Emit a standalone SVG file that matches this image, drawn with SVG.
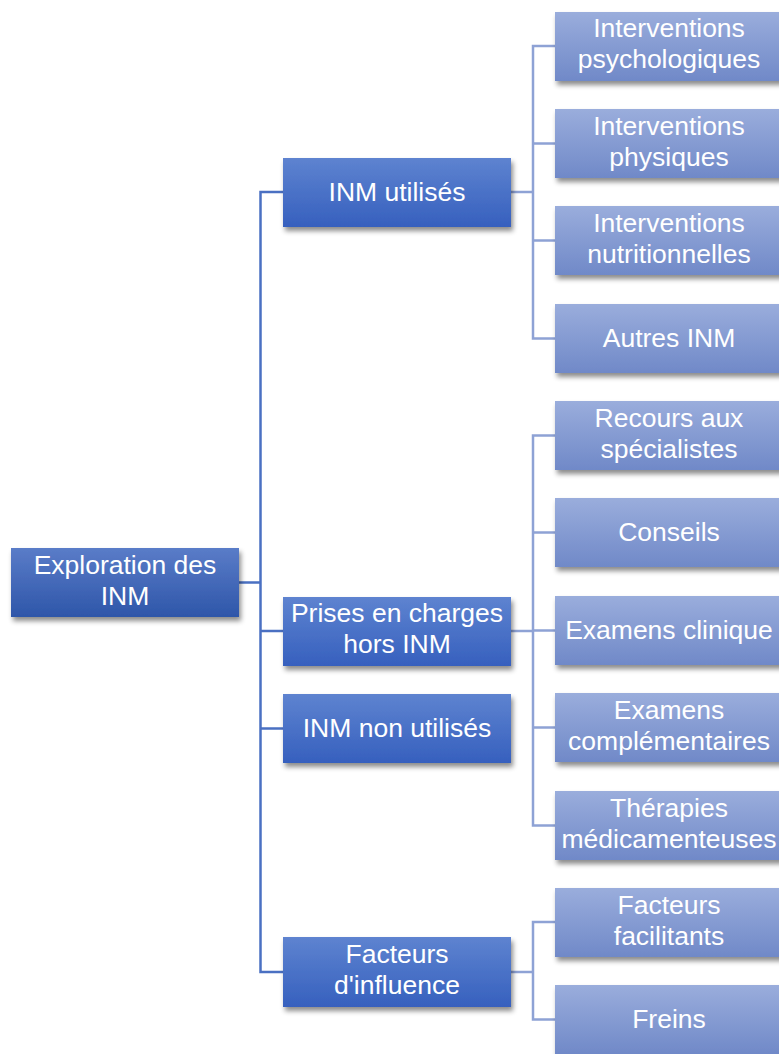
<svg xmlns="http://www.w3.org/2000/svg" width="779" height="1054" viewBox="0 0 779 1054">
<defs>
<linearGradient id="g0" x1="0" y1="0" x2="0" y2="1"><stop offset="0" stop-color="#5a7cc8"/><stop offset="1" stop-color="#2e56a9"/></linearGradient>
<linearGradient id="g1" x1="0" y1="0" x2="0" y2="1"><stop offset="0" stop-color="#5e83d0"/><stop offset="1" stop-color="#3660be"/></linearGradient>
<linearGradient id="g2" x1="0" y1="0" x2="0" y2="1"><stop offset="0" stop-color="#9aaddc"/><stop offset="1" stop-color="#7089c8"/></linearGradient>
<filter id="sh" x="-10%" y="-20%" width="130%" height="150%"><feDropShadow dx="2" dy="4" stdDeviation="2.5" flood-color="#000" flood-opacity="0.45"/></filter>
</defs>
<style>
text{font-family:"Liberation Sans",Arial,sans-serif;font-size:26.5px;fill:#fff;text-anchor:middle}
.c0{fill:none;stroke:#4a70c2;stroke-width:2.5}
.c1{fill:none;stroke:#8ea2d5;stroke-width:2.5}
.n0 rect{fill:url(#g0);filter:url(#sh)}
.n1 rect{fill:url(#g1);filter:url(#sh)}
.n2 rect{fill:url(#g2);filter:url(#sh)}
</style>
<g id="connectors">
<path class="c0" d="M239 582.5H260.5M283 192H260.5V972H283M260.5 631H283M260.5 728.5H283"/>
<path class="c1" d="M511 192H533M555 46H533V338.5H555M533 143.5H555M533 240.5H555"/>
<path class="c1" d="M511 631H533M555 435.5H533V825.5H555M533 532.5H555M533 630.5H555M533 727.5H555"/>
<path class="c1" d="M511 972H533M555 922H533V1019.5H555"/>
</g>
<g id="n-root" class="n0"><rect x="11" y="548" width="228" height="69"/><text x="125" y="574">Exploration des</text><text x="125" y="605">INM</text></g>
<g id="n-utilises" class="n1"><rect x="283" y="158" width="228" height="69"/><text x="397" y="201">INM utilisés</text></g>
<g id="n-prises" class="n1"><rect x="283" y="597" width="228" height="69"/><text x="397" y="622">Prises en charges</text><text x="397" y="653">hors INM</text></g>
<g id="n-nonutilises" class="n1"><rect x="283" y="694" width="228" height="69"/><text x="397" y="737">INM non utilisés</text></g>
<g id="n-facteurs" class="n1"><rect x="283" y="937" width="228" height="70"/><text x="397" y="963">Facteurs</text><text x="397" y="994">d'influence</text></g>
<g id="n-psy" class="n2"><rect x="555" y="12" width="228" height="69"/><text x="669" y="37">Interventions</text><text x="669" y="68">psychologiques</text></g>
<g id="n-phy" class="n2"><rect x="555" y="109" width="228" height="69"/><text x="669" y="135">Interventions</text><text x="669" y="166">physiques</text></g>
<g id="n-nut" class="n2"><rect x="555" y="206" width="228" height="69"/><text x="669" y="232">Interventions</text><text x="669" y="263">nutritionnelles</text></g>
<g id="n-autres" class="n2"><rect x="555" y="304" width="228" height="69"/><text x="669" y="347">Autres INM</text></g>
<g id="n-recours" class="n2"><rect x="555" y="401" width="228" height="69"/><text x="669" y="427">Recours aux</text><text x="669" y="458">spécialistes</text></g>
<g id="n-conseils" class="n2"><rect x="555" y="498" width="228" height="69"/><text x="669" y="541">Conseils</text></g>
<g id="n-clinique" class="n2"><rect x="555" y="596" width="228" height="69"/><text x="669" y="639">Examens clinique</text></g>
<g id="n-compl" class="n2"><rect x="555" y="693" width="228" height="69"/><text x="669" y="719">Examens</text><text x="669" y="750">complémentaires</text></g>
<g id="n-thera" class="n2"><rect x="555" y="791" width="228" height="69"/><text x="669" y="817">Thérapies</text><text x="669" y="848">médicamenteuses</text></g>
<g id="n-facil" class="n2"><rect x="555" y="888" width="228" height="69"/><text x="669" y="914">Facteurs</text><text x="669" y="945">facilitants</text></g>
<g id="n-freins" class="n2"><rect x="555" y="985" width="228" height="69"/><text x="669" y="1028">Freins</text></g>
</svg>
